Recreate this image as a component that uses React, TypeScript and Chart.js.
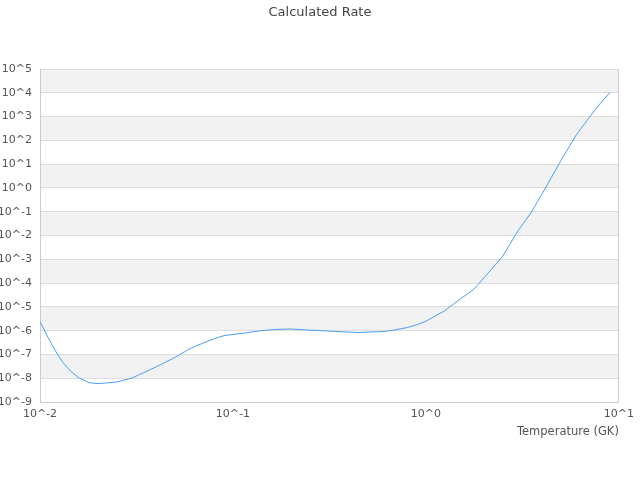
import React, { useEffect, useRef } from "react";
import { Chart, registerables } from "chart.js";

Chart.register(...registerables);

const chartTitle = "Calculated Rate";
const xAxisTitle = "Temperature (GK)";

// Temperature (GK)
const temperatures = [
  0.01, 0.011, 0.012, 0.013, 0.014, 0.015, 0.016, 0.018, 0.02, 0.025, 0.03,
  0.04, 0.05, 0.06, 0.07, 0.08, 0.09, 0.1, 0.12, 0.14, 0.16, 0.18, 0.2, 0.25,
  0.3, 0.35, 0.4, 0.45, 0.5, 0.6, 0.7, 0.8, 0.9, 1.0, 1.25, 1.5, 1.75, 2.0,
  2.5, 3, 3.5, 4, 5, 6, 7, 8, 9,
];

// Calculated rate
const rates = [
  2.4e-6, 5.2e-7, 1.45e-7, 5.2e-8, 2.5e-8, 1.5e-8, 1.0e-8, 6.5e-9, 5.9e-9,
  6.9e-9, 1.02e-8, 3.0e-8, 7.4e-8, 1.78e-7, 3.0e-7, 4.6e-7, 6.2e-7, 6.9e-7,
  8.3e-7, 1.0e-6, 1.1e-6, 1.15e-6, 1.17e-6, 1.05e-6, 9.8e-7, 9.1e-7, 8.7e-7,
  8.3e-7, 8.7e-7, 9.1e-7, 1.1e-6, 1.35e-6, 1.78e-6, 2.5e-6, 6.8e-6, 2.1e-5,
  5.0e-5, 1.66e-4, 1.35e-3, 1.58e-2, 8.9e-2, 0.56, 13.8, 166, 890, 3550,
  10500,
];

// Tick exponents (labels are 10^n)
const xTickExponents = [-2, -1, 0, 1];
const yTickExponents = [-9, -8, -7, -6, -5, -4, -3, -2, -1, 0, 1, 2, 3, 4, 5];

const FONT = "'DejaVu Sans', sans-serif";
const TEXT = "#555555";
const GRID = "#dddddd";
const BAND = "#f2f2f2";
const BORDER = "#cccccc";

const bandPlugin = {
  id: "bands",
  beforeDraw(chart: any) {
    const { ctx, chartArea } = chart;
    const y = chart.scales.y;
    const top = yTickExponents[yTickExponents.length - 1];
    ctx.save();
    ctx.fillStyle = BAND;
    for (let i = 0; i < yTickExponents.length - 1; i++) {
      const e = yTickExponents[i];
      if ((top - 1 - e) % 2 !== 0) continue;
      const y1 = y.getPixelForValue(Math.pow(10, e + 1));
      const y0 = y.getPixelForValue(Math.pow(10, e));
      ctx.fillRect(chartArea.left, y1, chartArea.right - chartArea.left, y0 - y1);
    }
    ctx.restore();
  },
};

export default function App() {
  const canvasRef = useRef<HTMLCanvasElement | null>(null);

  useEffect(() => {
    if (!canvasRef.current) return;
    const points = temperatures.map((t, i) => ({ x: t, y: rates[i] }));
    const chart = new Chart(canvasRef.current, {
      type: "line",
      data: {
        datasets: [
          {
            label: "Rate",
            data: points,
            borderColor: "#4a9ff5",
            borderWidth: 1,
            pointRadius: 0,
            tension: 0,
            fill: false,
          },
        ],
      },
      options: {
        animation: false,
        responsive: false,
        maintainAspectRatio: false,
        layout: { padding: { top: 0, right: 0, bottom: 38, left: 0 } },
        plugins: {
          legend: { display: false },
          tooltip: { enabled: false },
          title: {
            display: true,
            text: chartTitle,
            color: "#444444",
            font: { family: FONT, size: 13, weight: "normal" },
            padding: { top: 4.5, bottom: 48.9 },
          },
        },
        scales: {
          x: {
            type: "logarithmic",
            min: Math.pow(10, xTickExponents[0]),
            max: Math.pow(10, xTickExponents[xTickExponents.length - 1]),
            afterBuildTicks(scale: any) {
              scale.ticks = xTickExponents.map((e) => ({ value: Math.pow(10, e) }));
            },
            ticks: {
              autoSkip: false,
              maxRotation: 0,
              padding: 6,
              color: TEXT,
              font: { family: FONT, size: 11 },
              callback(value: any) {
                return "10^" + Math.round(Math.log10(Number(value)));
              },
            },
            grid: { display: false, drawTicks: false },
            border: { display: true, color: BORDER },
            title: {
              display: true,
              text: xAxisTitle,
              align: "end",
              color: TEXT,
              font: { family: FONT, size: 11.5 },
              padding: { top: -2, bottom: 3 },
            },
          },
          y: {
            type: "logarithmic",
            min: Math.pow(10, yTickExponents[0]),
            max: Math.pow(10, yTickExponents[yTickExponents.length - 1]),
            afterBuildTicks(scale: any) {
              scale.ticks = yTickExponents.map((e) => ({ value: Math.pow(10, e) }));
            },
            afterFit(scale: any) {
              scale.width = 40;
            },
            ticks: {
              autoSkip: false,
              padding: 8,
              color: TEXT,
              font: { family: FONT, size: 11 },
              callback(value: any) {
                return "10^" + Math.round(Math.log10(Number(value)));
              },
            },
            grid: { color: GRID, drawTicks: false },
            border: { display: true, color: BORDER },
          },
          yRight: {
            type: "linear",
            position: "right",
            min: 0,
            max: 1,
            afterFit(scale: any) {
              scale.width = 18;
            },
            ticks: { display: false },
            grid: { display: false, drawTicks: false },
            border: { display: true, color: BORDER },
          },
        },
      },
      plugins: [bandPlugin],
    } as any);
    return () => chart.destroy();
  }, []);

  return (
    <div style={{ position: "fixed", left: 0, top: 0, width: 640, height: 480 }}>
      <canvas ref={canvasRef} width={640} height={480} style={{ width: 640, height: 480 }} />
    </div>
  );
}
